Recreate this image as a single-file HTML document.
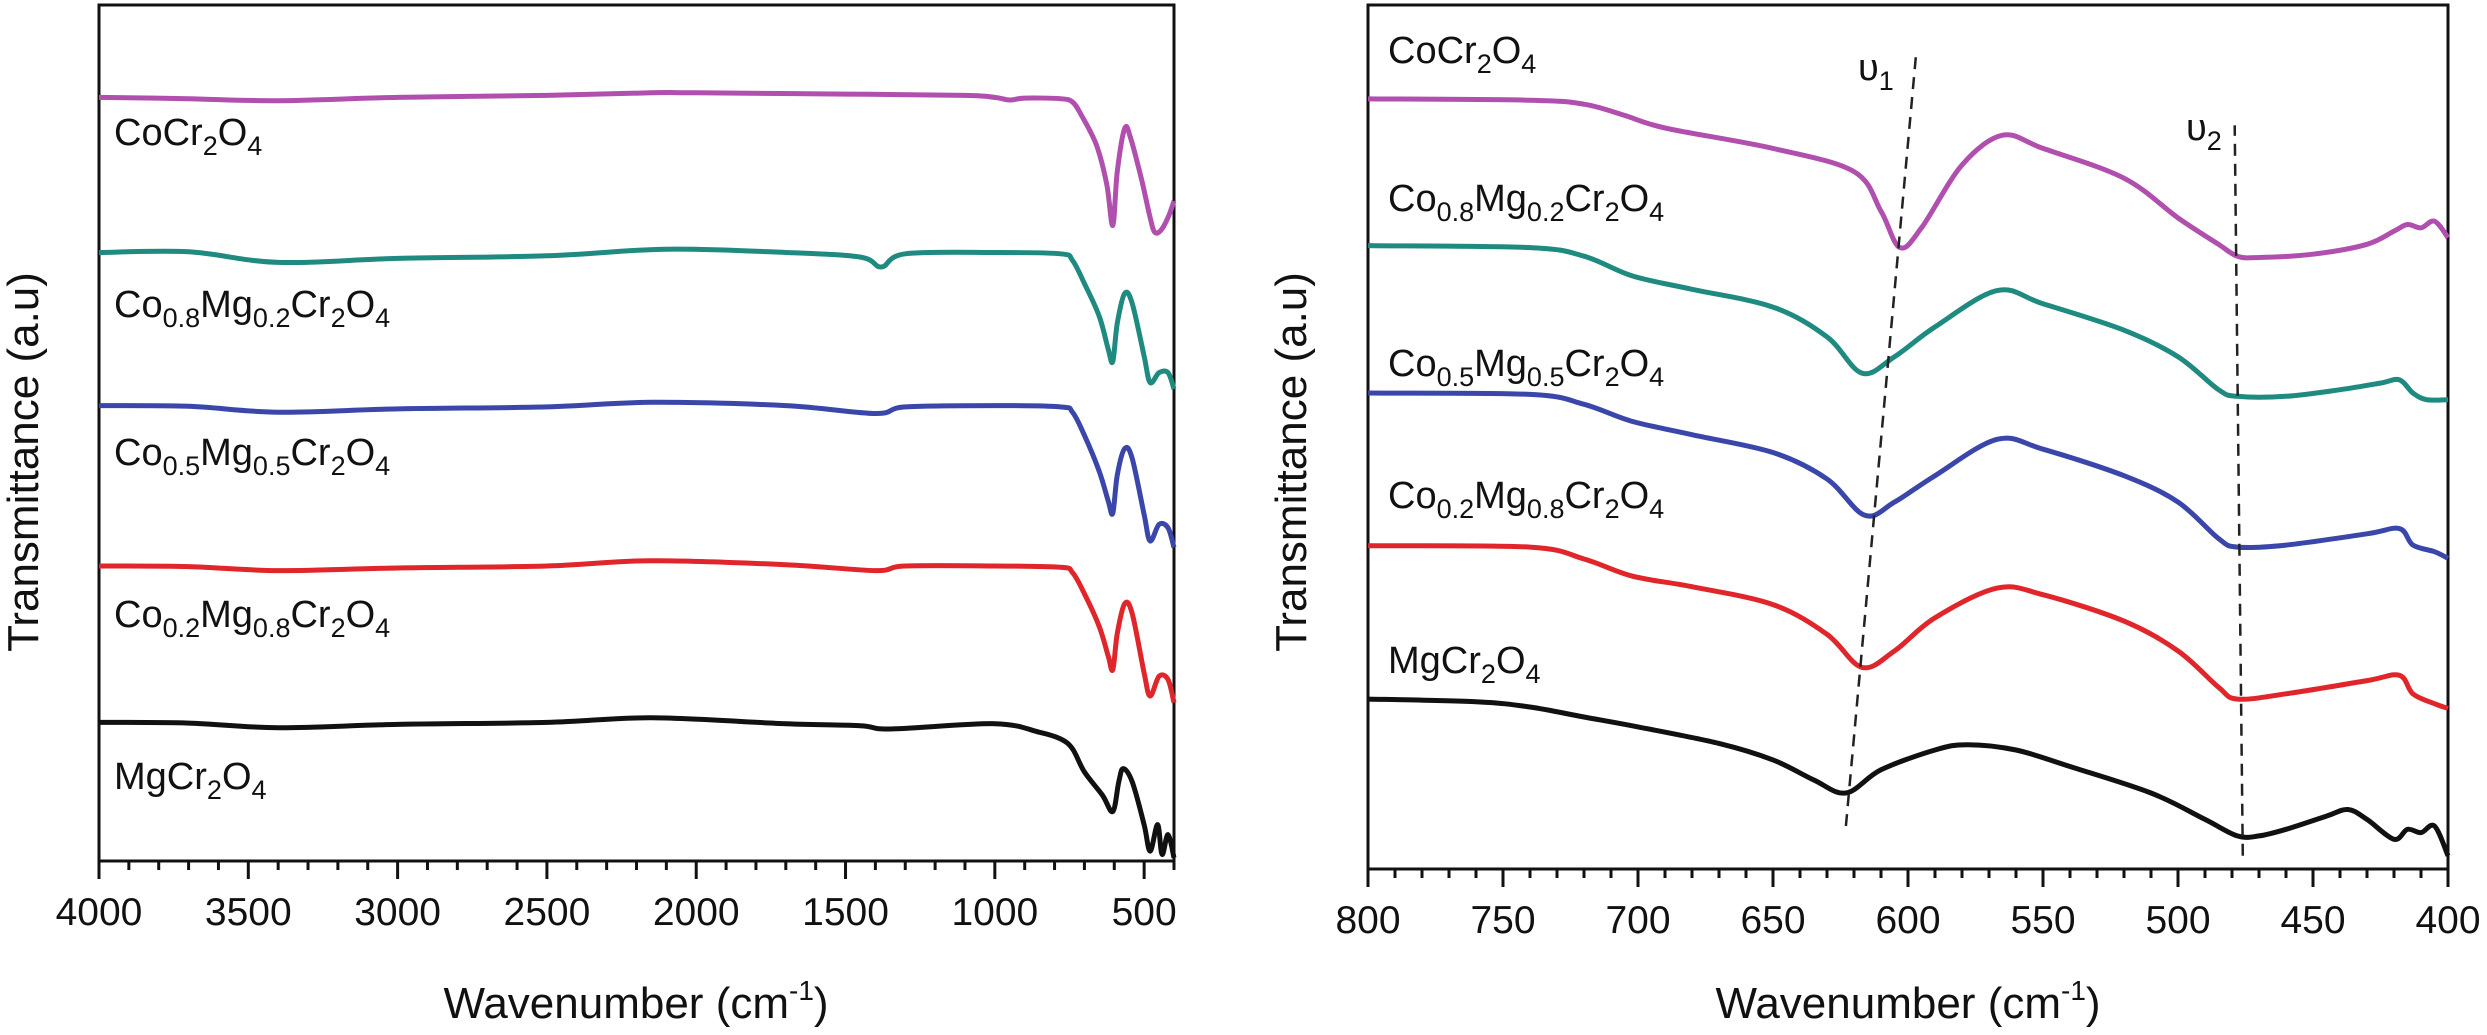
<!DOCTYPE html>
<html><head><meta charset="utf-8">
<style>
html,body{margin:0;padding:0;background:#fff;}
svg{display:block;font-family:"Liberation Sans",Arial,sans-serif;}
</style></head>
<body>
<svg id="chart" width="2487" height="1035" viewBox="0 0 2487 1035" xmlns="http://www.w3.org/2000/svg">
<rect x="0" y="0" width="2487" height="1035" fill="#fff"/>
<g id="left"></g>
<g id="right"></g>
</svg>
<script>
// ---- Data: wavenumber (cm-1) and trace offset (a.u., increasing downward) ----
// Left panel (4000-400 cm-1)
const L_co_x = [4000,3700,3400,3000,2500,2150,2000,1500,1100,1000,950,900,780,740,710,660,625,605,590,565,545,510,480,465,445,420,400];
const L_co_y = [148,150,153,148,145,141,141,143,145,148,152,149,150,155,175,220,280,342,260,195,210,270,330,352,350,330,305];
const L_c8_x = [4000,3700,3400,3000,2500,2100,1700,1450,1380,1300,1000,780,740,700,650,620,605,590,565,540,500,480,450,420,400];
const L_c8_y = [383,382,398,392,388,378,383,390,405,385,383,385,395,430,480,530,548,490,445,460,540,580,565,565,590];
const L_c5_x = [4000,3700,3400,3000,2500,2150,1700,1400,1300,1000,780,740,700,650,620,605,590,565,540,500,480,450,420,400];
const L_c5_y = [615,616,625,620,617,610,615,627,617,615,617,625,660,715,760,778,720,680,695,780,820,795,800,830];
const L_c2_x = [4000,3700,3400,3000,2500,2150,1700,1400,1300,1000,780,740,700,650,620,605,590,565,540,500,480,450,420,400];
const L_c2_y = [858,859,865,861,858,850,856,865,858,858,860,868,900,950,995,1015,960,915,930,1020,1055,1025,1030,1065];
const L_mg_x = [4000,3700,3400,3000,2500,2150,1700,1450,1350,1000,850,780,740,700,640,605,585,570,540,500,480,455,440,420,400];
const L_mg_y = [1095,1096,1103,1098,1095,1088,1097,1100,1105,1097,1110,1120,1135,1170,1205,1230,1185,1165,1185,1250,1290,1250,1295,1265,1300];
// Right panel (800-400 cm-1)
const R_co_x = [800,740,720,705,690,650,620,610,603,595,580,565,550,520,500,485,478,470,450,430,420,415,410,405,400];
const R_co_y = [150,152,158,175,194,225,260,320,375,345,250,205,225,270,330,370,388,390,385,370,350,340,345,335,360];
const R_c8_x = [800,740,720,702,680,650,630,617,605,590,567,550,520,500,485,478,460,440,425,418,413,408,400];
const R_c8_y = [372,375,388,418,438,465,510,565,540,495,440,460,500,540,590,600,600,590,580,575,595,605,605];
const R_c5_x = [800,740,720,702,680,650,630,616,605,590,567,550,520,500,485,478,460,430,418,413,405,400];
const R_c5_y = [595,597,612,638,658,685,725,780,760,720,665,680,720,760,815,828,825,808,800,825,835,845];
const R_c2_x = [800,740,720,702,680,650,630,617,605,590,567,550,520,500,485,478,460,430,418,413,405,400];
const R_c2_y = [826,828,846,872,888,915,960,1010,985,935,890,900,940,985,1040,1058,1050,1030,1022,1050,1065,1072];
const R_mg_x = [800,760,740,720,700,670,650,635,623,610,590,578,560,540,510,490,478,470,460,445,437,430,420,415,410,405,400];
const R_mg_y = [1058,1062,1070,1085,1100,1125,1150,1180,1200,1165,1135,1127,1135,1160,1200,1240,1265,1265,1255,1235,1225,1240,1270,1255,1260,1250,1295];
// Band guide lines (wavenumber at bottom/top, offset at bottom/top)
const nu1_x = [623,597]; const nu1_y = [1250,82];
const nu2_x = [476,479]; const nu2_y = [1295,190];
const L_ticks = [4000,3500,3000,2500,2000,1500,1000,500];
const R_ticks = [800,750,700,650,600,550,500,450,400];

const NS="http://www.w3.org/2000/svg";
function mk(parent,tag,attrs){const e=document.createElementNS(NS,tag);for(const k in attrs)e.setAttribute(k,attrs[k]);parent.appendChild(e);return e;}

const panels = {
  left:{x0:99,x1:1174,y0:5,y1:861,xmin:4000,xmax:400,vmin:8,vmax:1305},
  right:{x0:1368,x1:2448,y0:5,y1:869,xmin:800,xmax:400,vmin:8,vmax:1315}
};
function sx(p,w){return p.x0+(p.xmin-w)/(p.xmin-p.xmax)*(p.x1-p.x0);}
function sy(p,v){return p.y0+(v-p.vmin)/(p.vmax-p.vmin)*(p.y1-p.y0);}

function smoothPath(pts){
  let d="M"+pts[0][0].toFixed(1)+","+pts[0][1].toFixed(1);
  for(let i=0;i<pts.length-1;i++){
    const p0=pts[Math.max(0,i-1)],p1=pts[i],p2=pts[i+1],p3=pts[Math.min(pts.length-1,i+2)];
    const c1=[p1[0]+(p2[0]-p0[0])/6,p1[1]+(p2[1]-p0[1])/6];
    const c2=[p2[0]-(p3[0]-p1[0])/6,p2[1]-(p3[1]-p1[1])/6];
    d+=" C"+c1[0].toFixed(1)+","+c1[1].toFixed(1)+" "+c2[0].toFixed(1)+","+c2[1].toFixed(1)+" "+p2[0].toFixed(1)+","+p2[1].toFixed(1);
  }
  return d;
}
function series(g,p,xs,ys,color,name){
  const pts=xs.map((w,i)=>[sx(p,w),sy(p,ys[i])]);
  const e=mk(g,"path",{d:smoothPath(pts),fill:"none",stroke:color,"stroke-width":"5","stroke-linejoin":"round"});
  
  
}
function axes(g,p,ticks,minorStep,panelName){
  const fr=mk(g,"rect",{x:p.x0,y:p.y0,width:p.x1-p.x0,height:p.y1-p.y0,fill:"none",stroke:"#111","stroke-width":"3"});
  
  
  for(let w=p.xmin; w>=p.xmax; w-=minorStep){
    const major=ticks.indexOf(w)>=0;
    const x=sx(p,w);
    const t=mk(g,"line",{x1:x,y1:p.y1,x2:x,y2:p.y1+(major?18:9),stroke:"#111","stroke-width":"3"});
    
    
  }
  ticks.forEach(w=>{
    const t=mk(g,"text",{x:sx(p,w),y:p.y1+64,"text-anchor":"middle","font-size":"39",fill:"#111"});
    t.textContent=String(w);
    
    
  });
}
function label(g,x,y,parts,name){
  const t=mk(g,"text",{x:x,y:y,"font-size":"38",fill:"#111"});
  
  
  parts.forEach(pt=>{
    const s=mk(t,"tspan",{});
    if(pt[1]){s.setAttribute("font-size","27");s.setAttribute("dy","10");}
    else{s.setAttribute("dy", t.childNodes.length>1 && parts[t.childNodes.length-2][1] ? "-10":"0");}
    s.textContent=pt[0];
  });
}
function axisTitles(g,cx,yTitleX,panelName){
  const t=mk(g,"text",{x:cx,y:1018,"text-anchor":"middle","font-size":"44",fill:"#111"});
  
  
  const a=mk(t,"tspan",{});a.textContent="Wavenumber (cm";
  const b=mk(t,"tspan",{"font-size":"28",dy:"-18"});b.textContent="-1";
  const c=mk(t,"tspan",{dy:"18"});c.textContent=")";
  const y=mk(g,"text",{x:0,y:0,"text-anchor":"middle","font-size":"44",fill:"#111",transform:"translate("+yTitleX+",462) rotate(-90)"});
  y.textContent="Transmittance (a.u)";
  
  
}
const MAG="#b04fae",TEAL="#1f8a80",BLUE="#3a46aa",RED="#e0262a",BLK="#111";
const labelsSet=[
  [["Co",0],["Cr",0],["2",1],["O",0],["4",1]],
  [["Co",0],["0.8",1],["Mg",0],["0.2",1],["Cr",0],["2",1],["O",0],["4",1]],
  [["Co",0],["0.5",1],["Mg",0],["0.5",1],["Cr",0],["2",1],["O",0],["4",1]],
  [["Co",0],["0.2",1],["Mg",0],["0.8",1],["Cr",0],["2",1],["O",0],["4",1]],
  [["Mg",0],["Cr",0],["2",1],["O",0],["4",1]]
];
const labelNames=["label-cocr2o4","label-co08mg02cr2o4","label-co05mg05cr2o4","label-co02mg08cr2o4","label-mgcr2o4"];

// Left panel
const gl=document.getElementById("left"), pl=panels.left;
axes(gl,pl,L_ticks,100,"left");
series(gl,pl,L_co_x,L_co_y,MAG,"left-cocr2o4-line");
series(gl,pl,L_c8_x,L_c8_y,TEAL,"left-co08-line");
series(gl,pl,L_c5_x,L_c5_y,BLUE,"left-co05-line");
series(gl,pl,L_c2_x,L_c2_y,RED,"left-co02-line");
series(gl,pl,L_mg_x,L_mg_y,BLK,"left-mgcr2o4-line");
[145,317,465,627,789].forEach((y,i)=>label(gl,114,y,labelsSet[i],"left-"+labelNames[i]));
axisTitles(gl,636,38,"left");

// Right panel
const gr=document.getElementById("right"), pr=panels.right;
axes(gr,pr,R_ticks,10,"right");
series(gr,pr,R_co_x,R_co_y,MAG,"right-cocr2o4-line");
series(gr,pr,R_c8_x,R_c8_y,TEAL,"right-co08-line");
series(gr,pr,R_c5_x,R_c5_y,BLUE,"right-co05-line");
series(gr,pr,R_c2_x,R_c2_y,RED,"right-co02-line");
series(gr,pr,R_mg_x,R_mg_y,BLK,"right-mgcr2o4-line");
[63,211,376,508,673].forEach((y,i)=>label(gr,1388,y,labelsSet[i],"right-"+labelNames[i]));
axisTitles(gr,1908,1306,"right");
[[nu1_x,nu1_y,"nu1-guide-line"],[nu2_x,nu2_y,"nu2-guide-line"]].forEach(([xs,ys,n])=>{
  const e=mk(gr,"line",{x1:sx(pr,xs[0]),y1:sy(pr,ys[0]),x2:sx(pr,xs[1]),y2:sy(pr,ys[1]),stroke:"#222","stroke-width":"2.5","stroke-dasharray":"12,8"});
  
  
});
label(gr,1858,80,[["υ",0],["1",1]],"nu1-label");
label(gr,2186,140,[["υ",0],["2",1]],"nu2-label");
</script>
</body></html>
